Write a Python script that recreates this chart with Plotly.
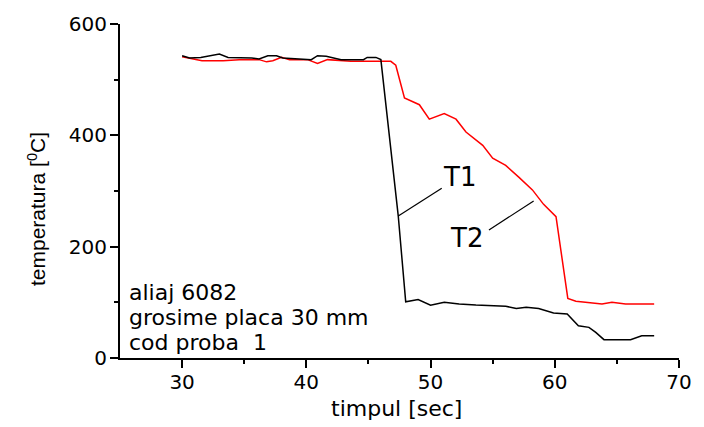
import plotly.graph_objects as go

# T1 (black) - temperature vs time
t1_time = [30.0, 30.6, 31.5, 32.2, 33.0, 33.7, 35.6, 36.2, 36.9, 37.6, 38.1, 40.4, 40.9, 41.6,
           42.8, 44.6, 44.9, 45.6, 46.0, 47.4, 48.0, 49.0, 50.0, 51.1, 52.3, 53.65, 56.05, 56.9,
           57.7, 58.7, 59.9, 61.0, 61.9, 62.75, 63.3, 63.96, 66.1, 67.0, 68.0]
t1_temp = [543, 539, 540, 543, 546, 540, 539, 537, 543, 543, 539, 536, 543, 542,
           536, 536, 540, 540, 536, 255, 101, 105, 95, 100, 97, 95, 93, 89,
           91, 89, 81, 79, 58, 55, 46, 33, 33, 40, 40]

# T2 (red)
t2_time = [30.0, 31.6, 33.3, 34.6, 36.2, 36.8, 37.3, 38.0, 38.65, 40.1, 40.9, 41.7, 43.6, 44.6,
           45.1, 46.0, 46.8, 47.2, 47.9, 49.1, 49.9, 51.1, 52.05, 52.85, 54.2, 55.0, 56.05, 57.1,
           58.2, 59.1, 60.1, 60.5, 61.05, 61.7, 63.8, 64.6, 65.7, 68.0]
t2_temp = [541, 534, 534, 536, 536, 532, 534, 540, 536, 536, 529, 536, 533, 533,
           534, 534, 533, 526, 467, 455, 429, 439, 429, 406, 382, 359, 346, 325,
           302, 276, 254, 192, 107, 102, 97, 100, 97, 97]

x_ticks = [30, 40, 50, 60, 70]
y_ticks = [0, 200, 400, 600]

# labels and leader lines (data coordinates)
t1_label = ("T1", 52.3, 326)
t2_label = ("T2", 52.9, 215)
t1_leader = [(47.4, 255), (50.9, 305)]
t2_leader = [(54.7, 230), (58.3, 282)]
info_lines = ["aliaj 6082", "grosime placa 30 mm", "cod proba  1"]
info_y = [118, 72, 28]

fig = go.Figure()
fig.add_trace(go.Scatter(x=t2_time, y=t2_temp, mode="lines",
                         line=dict(color="#ff0000", width=1.5), showlegend=False))
fig.add_trace(go.Scatter(x=t1_time, y=t1_temp, mode="lines",
                         line=dict(color="#000000", width=1.5), showlegend=False))

for (p0, p1) in (t1_leader, t2_leader):
    fig.add_shape(type="line", x0=p0[0], y0=p0[1], x1=p1[0], y1=p1[1],
                  xref="x", yref="y", line=dict(color="#000000", width=1.2))

for txt, x, y in (t1_label, t2_label):
    fig.add_annotation(x=x, y=y, text=txt, showarrow=False, xref="x", yref="y",
                       font=dict(family="DejaVu Sans", size=26, color="#000000"))

for txt, y in zip(info_lines, info_y):
    fig.add_annotation(x=25.55, y=y, xref="x", yref="y", text=txt,
                       showarrow=False, xanchor="left", yanchor="middle", align="left",
                       font=dict(family="DejaVu Sans", size=22, color="#000000"))

fig.add_annotation(x=-0.1497, y=0.447, xref="paper", yref="paper",
                   text="temperatura [<sup>0</sup>C]", textangle=-90, showarrow=False,
                   xanchor="center", yanchor="middle",
                   font=dict(family="Liberation Sans", size=21, color="#000000"))
fig.add_annotation(x=0.4955, y=-0.152, xref="paper", yref="paper",
                   text="timpul [sec]", showarrow=False, xanchor="center", yanchor="middle",
                   font=dict(family="DejaVu Sans", size=22, color="#000000"))

axis_common = dict(showline=True, linecolor="#000000", linewidth=2, showgrid=False,
                   zeroline=False, ticks="outside", ticklen=8, tickwidth=2,
                   tickcolor="#000000",
                   tickfont=dict(family="DejaVu Sans", size=20, color="#000000"))

fig.update_xaxes(range=[25, 70], tickvals=x_ticks, ticklabelstandoff=-3,
                 minor=dict(ticks="outside", ticklen=4, tickwidth=2, tickcolor="#000000",
                            tickvals=[35, 45, 55, 65]),
                 **axis_common)
fig.update_yaxes(range=[0, 600], tickvals=y_ticks, ticklabelstandoff=-1,
                 minor=dict(ticks="outside", ticklen=4, tickwidth=2, tickcolor="#000000",
                            tickvals=[100, 300, 500]),
                 **axis_common)

fig.update_layout(width=704, height=427, margin=dict(l=120, r=23, t=16, b=69),
                  plot_bgcolor="white", paper_bgcolor="white")

fig.write_html("out.html")
